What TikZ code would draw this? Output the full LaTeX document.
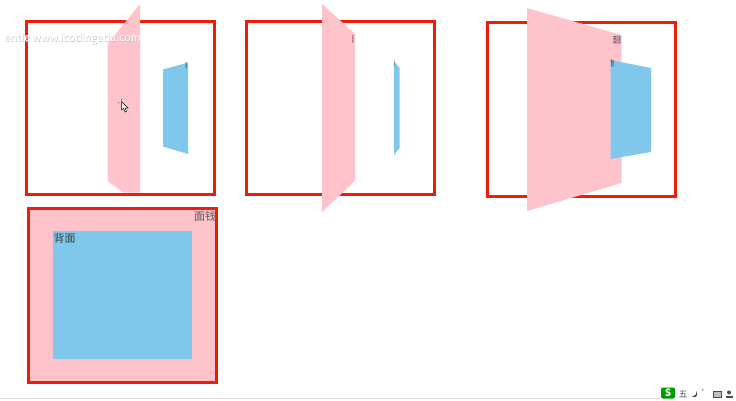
\documentclass[tikz,border=0pt]{standalone}
\usepackage{fontspec}
\setmainfont{Noto Sans CJK SC}
\definecolor{framered}{RGB}{240,28,8}
\definecolor{frontpink}{RGB}{255,195,203}
\definecolor{backblue}{RGB}{127,200,236}
\tikzset{
    framebox/.style={draw=framered, line width=3pt},
    frontface/.style={fill=frontpink},
    backface/.style={fill=backblue},
    facetext/.style={inner sep=0pt, text=black!75, font=\fontsize{11}{11}\selectfont},
    tinytext/.style={inner sep=0pt, text=black!80, font=\fontsize{7}{7}\selectfont},
    traytext/.style={inner sep=0pt, text=black!70, font=\fontsize{8.5}{8.5}\selectfont},
    watertext/.style={inner sep=0pt, anchor=east, font=\fontsize{10.7}{11}\selectfont}
}
\begin{document}
\begin{tikzpicture}[x=1pt, y=-1pt]
    \useasboundingbox (0,0) rectangle (736,400);

    % First panel
    \draw[framebox] (26.5,21) rectangle (214.5,194);
    \fill[frontface] (140,4) -- (107.5,44) -- (107.5,181) -- (123,192.5) -- (140,192.5) -- cycle;
    \fill[backface] (163,69.5) -- (188,62.5) -- (188,154) -- (163,146.5) -- cycle;
    \node[tinytext, xscale=0.3] (markA) at (186.5,65.5) {背};

    % Second panel
    \draw[framebox] (246.5,21) rectangle (434.5,194);
    \fill[frontface] (322,4) -- (355,34) -- (355,181) -- (322,212) -- cycle;
    \fill[backface] (394,61) -- (399.5,68) -- (399.5,148) -- (394,155) -- cycle;
    \node[tinytext, xscale=0.25, yscale=1.2] (markB) at (353,40) {面};
    \node[tinytext, xscale=0.15] (markC) at (394.5,63.5) {背};

    % Third panel
    \draw[framebox] (487,22) rectangle (675,196);
    \fill[frontface] (527,8) -- (621.5,35) -- (621.5,183) -- (527,211) -- cycle;
    \fill[backface] (610.5,60) -- (651,68) -- (651,152) -- (610.5,159) -- cycle;
    \node[tinytext, xscale=0.55, yscale=1.3] (markD) at (617,40) {面钱};
    \node[tinytext, xscale=0.6, yscale=1.1] (markE) at (612.5,64) {背};

    % Fourth panel
    \fill[frontface] (28,208) rectangle (216,382);
    \fill[backface] (53,231) rectangle (192,359);
    \node[facetext] (backText) at (64.5,238) {背面};
    \node[facetext, text=black!65] (frontText) at (205,216) {面钱};
    \draw[framebox] (28,208) rectangle (216,382);

    % Watermark
    \node[watertext, text=black!25] (shadow) at (141.5,39.7) {entle www.icodingedu.com};
    \node[watertext, text=white] (water) at (141,39) {entle www.icodingedu.com};

    % Cursor
    \draw[fill=white, line width=0.5pt] (121.5,101.5) -- (121.5,110) -- (123.5,108.5) -- (125,112) -- (126.5,111.5) -- (125,108) -- (128,108) -- cycle;
    \draw[dotted, line width=0.7pt] (118.5,103) -- (120,102) (121.5,99.5) -- (122,100.5);

    % Input method tray
    \draw[black!15] (0,398.5) -- (660,398.5);
    \node[inner sep=0pt, fill=green!60!black, rounded corners=2pt, minimum width=14pt, minimum height=11pt, text=white, font=\bfseries\fontsize{10}{10}\selectfont] (tray) at (668,393) {S};
    \node[traytext] (five) at (683,394.5) {五};
    \fill[black!70] (692,396.5) .. controls (695,396.5) and (696.5,394.5) .. (696.5,391) .. controls (698.5,395) and (696,399) .. (692,396.5) -- cycle;
    \node[traytext] (dots) at (706,393) {'};
    \node[inner sep=0pt, draw=black!70, fill=black!25, minimum width=8pt, minimum height=6pt] (keys) at (717,394.5) {};
    \node[inner sep=0pt, fill=black!70, circle, minimum size=4pt] (user) at (729,392.5) {};
    \fill[black!70] (725.5,398) rectangle (732.5,395.5);
\end{tikzpicture}
\end{document}
